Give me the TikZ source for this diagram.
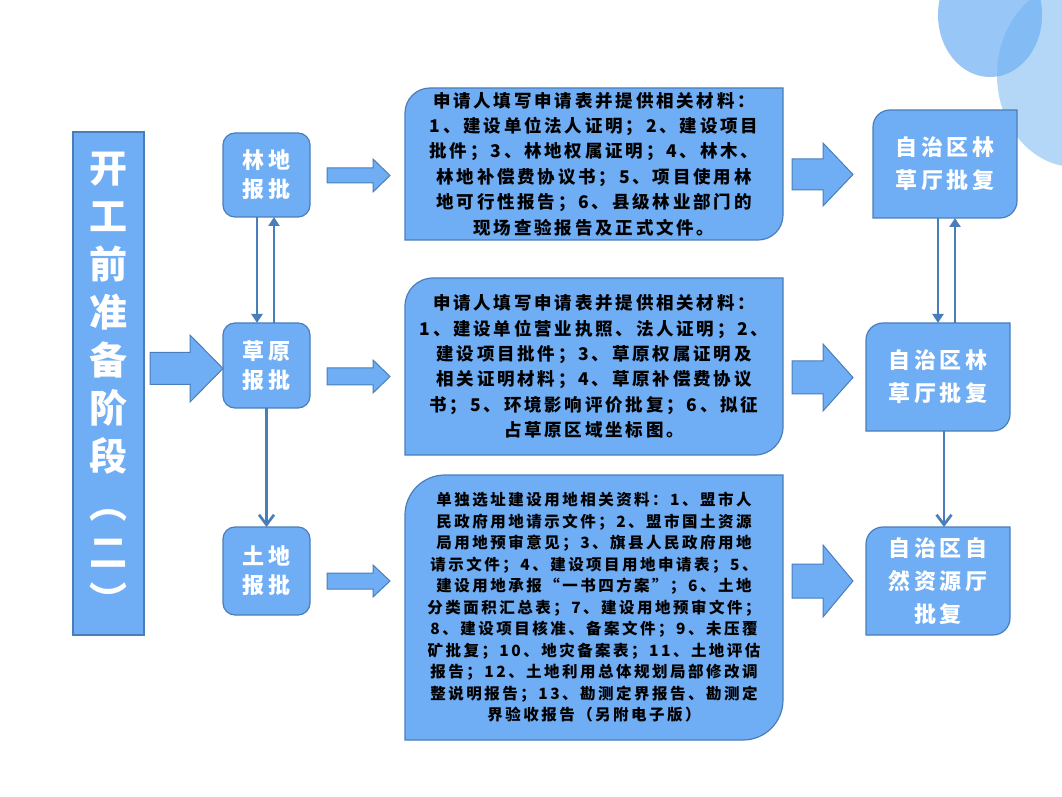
\documentclass[tikz,border=0pt]{standalone}
\usepackage{fontspec}
\newfontfamily\cjk{Noto Sans CJK SC}
\newfontfamily\cjkmid[LetterSpace=16]{Noto Sans CJK SC}
\newfontfamily\cjkwhite[LetterSpace=14]{Noto Sans CJK SC}
\newfontfamily\cjkright[LetterSpace=18]{Noto Sans CJK SC}
\usetikzlibrary{arrows.meta,calc,backgrounds}
\definecolor{boxfill}{RGB}{111,173,244}
\definecolor{boxline}{RGB}{74,126,187}
\definecolor{decoA}{RGB}{151,198,247}
\definecolor{decoB}{RGB}{180,215,248}
\definecolor{decoC}{RGB}{131,188,245}
\tikzset{
  plainbox/.style={draw=boxline, fill=boxfill, line width=1.2pt, outer sep=0pt, inner sep=0pt, text=white, align=center},
  roundbox/.style={plainbox, rounded corners=12pt, minimum width=87pt,
    font={\cjkwhite\bfseries\fontsize{22}{29}\selectfont}},
  diagnode/.style={outer sep=0pt, inner sep=0pt, align=center, text=black},
  rightnode/.style={diagnode, text=white, minimum width=144pt, minimum height=108pt,
    font={\cjkright\bfseries\fontsize{22}{33}\selectfont}},
  diagshape/.style={draw=boxline, fill=boxfill, line width=1.2pt},
  blockarrow/.style={draw=boxline, fill=boxfill, line width=1pt, line join=miter},
  conn/.style={draw=boxline, line width=2.7pt},
  pairtip/.style={-{Triangle[length=9pt,width=11pt]}},
  bartip/.style={-{Straight Barb[length=10pt,width=15pt]}},
}
% block arrow: from node, to node, start gap, end gap, centre y, shaft half, head half, head length
\newcommand{\blkarrow}[8]{%
  \draw[blockarrow] let \p1=(#1.east), \p2=(#2.west) in
    (\x1+#3, #5pt-#6pt) -- (\x2-#4-#8, #5pt-#6pt) -- (\x2-#4-#8, #5pt-#7pt)
    -- (\x2-#4, #5pt) -- (\x2-#4-#8, #5pt+#7pt) -- (\x2-#4-#8, #5pt+#6pt)
    -- (\x1+#3, #5pt+#6pt) -- cycle;}
% shape with rounded top-left and bottom-right corners behind a node
\newcommand{\diagbox}[2]{%
  \draw[diagshape] (#1.south west) -- ($(#1.north west)+(0,-#2)$)
    arc[start angle=180, end angle=90, radius=#2] -- (#1.north east)
    -- ($(#1.south east)+(0,#2)$) arc[start angle=0, end angle=-90, radius=#2] -- cycle;}
\begin{document}
\begin{tikzpicture}[x=1pt,y=1pt]
\useasboundingbox (0,0) rectangle (1062,796);
\begin{scope}[on background layer]
  \fill[white] (0,0) rectangle (1062,796);
  \clip (0,0) rectangle (1062,796);
  \fill[decoB] (1075,721) ellipse [x radius=78, y radius=92];
  \fill[decoA] (990,781) ellipse [x radius=52, y radius=62];
  \begin{scope}
    \clip (990,781) ellipse [x radius=52, y radius=62];
    \fill[decoC] (1075,721) ellipse [x radius=78, y radius=92];
  \end{scope}
\end{scope}

% left stage box
\node[plainbox, minimum width=71pt, minimum height=503pt,
  font={\cjk\bfseries\fontsize{38}{48}\selectfont}] (L) at (108.5,412.5)
  {开\\工\\前\\准\\备\\阶\\段\\︵\\二\\︶};

% approval boxes
\node[roundbox, minimum height=84pt] (lin) at (266.5,621) {林地\\报批};
\node[roundbox, minimum height=85pt] (cao) at (266.5,430.5) {草原\\报批};
\node[roundbox, minimum height=88pt] (tu) at (266.5,225) {土地\\报批};

% material boxes
\node[diagnode, minimum width=378pt, minimum height=152pt,
  font={\cjkmid\bfseries\fontsize{17.5}{25.4}\selectfont}] (m1) at (594,632)
  {申请人填写申请表并提供相关材料：\\1、建设单位法人证明；2、建设项目\\批件；3、林地权属证明；4、林木、\\林地补偿费协议书；5、项目使用林\\地可行性报告；6、县级林业部门的\\现场查验报告及正式文件。};
\node[diagnode, minimum width=378pt, minimum height=177pt,
  font={\cjkmid\bfseries\fontsize{17.5}{25.4}\selectfont}] (m2) at (594,429.5)
  {申请人填写申请表并提供相关材料：\\1、建设单位营业执照、法人证明；2、\\建设项目批件；3、草原权属证明及\\相关证明材料；4、草原补偿费协议\\书；5、环境影响评价批复；6、拟征\\占草原区域坐标图。};
\node[diagnode, minimum width=378pt, minimum height=265pt,
  font={\cjkmid\bfseries\fontsize{15.5}{21.5}\selectfont}] (m3) at (594,188.5)
  {单独选址建设用地相关资料：1、盟市人\\民政府用地请示文件；2、盟市国土资源\\局用地预审意见；3、旗县人民政府用地\\请示文件；4、建设项目用地申请表；5、\\建设用地承报“一书四方案”；6、土地\\分类面积汇总表；7、建设用地预审文件；\\8、建设项目核准、备案文件；9、未压覆\\矿批复；10、地灾备案表；11、土地评估\\报告；12、土地利用总体规划局部修改调\\整说明报告；13、勘测定界报告、勘测定\\界验收报告（另附电子版）};

% result boxes
\node[rightnode] (r1) at (945,632) {自治区林\\草厅批复};
\node[rightnode] (r2) at (938,419) {自治区林\\草厅批复};
\node[rightnode] (r3) at (938,215) {自治区自\\然资源厅\\批复};

\begin{scope}[on background layer]
  \diagbox{m1}{25}
  \diagbox{m2}{28}
  \diagbox{m3}{40}
  \diagbox{r1}{17}
  \diagbox{r2}{17}
  \diagbox{r3}{17}
\end{scope}

% block arrows
\blkarrow{L}{cao}{6}{0}{427.5}{16}{33.5}{33}
\blkarrow{lin}{m1}{17}{15}{620.5}{7.5}{16.5}{17}
\blkarrow{cao}{m2}{17}{15}{419.5}{8.5}{16.5}{17}
\blkarrow{tu}{m3}{17}{15}{215}{8}{16}{17}
\blkarrow{m1}{r1}{9}{20}{621.5}{15.5}{31.5}{30}
\blkarrow{m2}{r2}{9}{13}{418.5}{16.5}{33.5}{30}
\blkarrow{m3}{r3}{9}{13}{215}{17}{36}{30}

% line connectors
\draw[conn, pairtip] ([xshift=-9.5pt]lin.south) -- ([xshift=-9.5pt]cao.north);
\draw[conn, pairtip] ([xshift=7.5pt]cao.north) -- ([xshift=7.5pt]lin.south);
\draw[conn, bartip] (cao.south) -- (tu.north);
\draw[conn, pairtip] ([xshift=-7pt]r1.south) -- (r2.north);
\draw[conn, pairtip] ([xshift=17pt]r2.north) -- ([xshift=10pt]r1.south);
\draw[conn, bartip] ([xshift=6pt]r2.south) -- ([xshift=6pt]r3.north);
\end{tikzpicture}
\end{document}
